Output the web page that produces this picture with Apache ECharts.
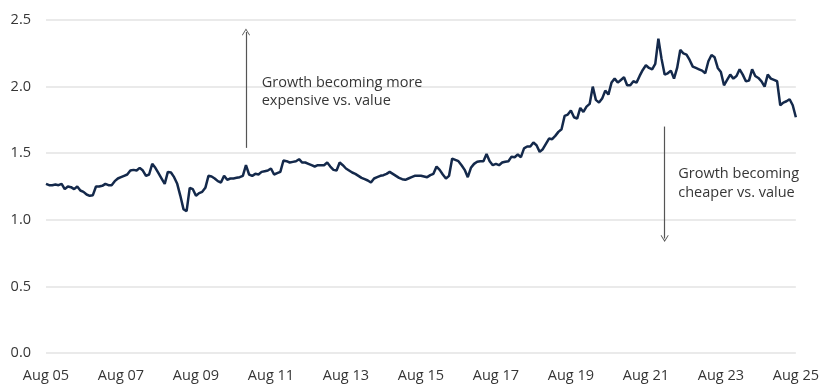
<!DOCTYPE html>
<html>
<head>
<meta charset="utf-8">
<script src="https://cdn.jsdelivr.net/npm/echarts@6/dist/echarts.min.js"></script>
<style>
html,body{margin:0;padding:0;background:#fff;}
#chart{width:822px;height:385px;}
</style>
</head>
<body>
<div id="chart"></div>
<script>
// Monthly observations, Aug 2005 .. Aug 2025 (241 months)
var startYear = 2005, startMonth = 7; // August (0-based)
var monthNames = ['Jan','Feb','Mar','Apr','May','Jun','Jul','Aug','Sep','Oct','Nov','Dec'];

var values2005_2010 = [
  1.27,1.26,1.26,1.265,1.26,1.27,1.23,1.25,1.245,1.23,1.25,1.22,1.21,1.19,1.18,1.185,
  1.25,1.25,1.255,1.27,1.26,1.26,1.29,1.31,1.32,1.33,1.34,1.37,1.375,1.37,1.39,1.37,
  1.33,1.34,1.42,1.39,1.35,1.31,1.27,1.36,1.355,1.32,1.27,1.18,1.08,1.065,1.24,1.23,
  1.18,1.20,1.21,1.24,1.33,1.325,1.31,1.29,1.28,1.33
];
var values2010_2015 = [
  1.30,1.31,1.31,1.315,1.32,1.33,1.41,1.34,1.33,1.345,1.34,1.36,1.365,1.37,1.385,1.34,
  1.35,1.36,1.445,1.44,1.43,1.435,1.44,1.455,1.43,1.43,1.42,1.41,1.40,1.41,1.41,1.41,
  1.43,1.40,1.375,1.37,1.43,1.41,1.385,1.37,1.355,1.345,1.33,1.315,1.305,1.295,1.28,1.31,
  1.32,1.33,1.335,1.345,1.36,1.345,1.33,1.315,1.305,1.30,1.31,1.32,1.33
];
var values2015_2025 = [
  1.33,1.33,1.325,1.32,1.335,1.345,1.40,1.375,1.34,1.31,1.33,1.46,1.45,1.44,1.41,1.375,
  1.32,1.39,1.42,1.436,1.44,1.44,1.494,1.44,1.41,1.42,1.41,1.43,1.436,1.44,1.474,1.47,
  1.49,1.47,1.536,1.55,1.55,1.58,1.56,1.51,1.53,1.57,1.61,1.605,1.63,1.66,1.68,1.78,
  1.79,1.82,1.77,1.76,1.84,1.81,1.85,1.87,2.00,1.90,1.88,1.91,1.97,1.94,2.03,2.06,
  2.03,2.05,2.07,2.01,2.01,2.04,2.03,2.08,2.125,2.16,2.14,2.13,2.17,2.36,2.21,2.09,
  2.10,2.12,2.06,2.14,2.275,2.25,2.24,2.20,2.15,2.14,2.13,2.12,2.10,2.19,2.237,2.22,
  2.14,2.11,2.01,2.05,2.09,2.06,2.08,2.13,2.09,2.04,2.045,2.13,2.08,2.065,2.04,2.00,
  2.09,2.06,2.05,2.04,1.86,1.88,1.89,1.905,1.86,1.77
];
var seriesValues = values2005_2010.concat(values2010_2015, values2015_2025);

var yTicks = [0.0, 0.5, 1.0, 1.5, 2.0, 2.5];

var annotUp = ['Growth becoming more', 'expensive vs. value'];
var annotDown = ['Growth becoming', 'cheaper vs. value'];

var categories = [];
for (var i = 0; i < seriesValues.length; i++) {
  var mm = startMonth + i;
  var yy = startYear + Math.floor(mm / 12);
  categories.push(monthNames[mm % 12] + ' ' + String(yy % 100).padStart(2, '0'));
}

var FONT = '"Open Sans", "Noto Sans", sans-serif';
var TXT = '#363636';
var chevron = 'path://M0,9 L5,0 L10,9 L9.2,9.6 L5,2.2 L0.8,9.6 Z';

var chart = echarts.init(document.getElementById('chart'), null, {renderer: 'canvas'});
chart.setOption({
  animation: false,
  backgroundColor: '#ffffff',
  grid: {left: 46, right: 22, top: 20, bottom: 32, containLabel: false},
  xAxis: {
    type: 'category',
    data: categories,
    boundaryGap: false,
    axisLine: {show: false},
    axisTick: {show: false},
    axisLabel: {
      interval: function (idx) { return idx % 24 === 0; },
      color: TXT, fontFamily: FONT, fontSize: 14.5, margin: 15
    },
    splitLine: {show: false}
  },
  yAxis: {
    type: 'value',
    min: yTicks[0], max: yTicks[yTicks.length - 1], interval: 0.5,
    axisLine: {show: false},
    axisTick: {show: false},
    axisLabel: {
      color: TXT, fontFamily: FONT, fontSize: 14.5, margin: 15,
      formatter: function (v) { return v.toFixed(1); }
    },
    splitLine: {lineStyle: {color: '#e3e3e3', width: 1.5}}
  },
  series: [{
    type: 'line',
    data: seriesValues,
    showSymbol: false,
    smooth: false,
    lineStyle: {color: '#14294b', width: 2.5},
    markLine: {
      silent: true,
      symbol: ['none', chevron],
      symbolSize: [8, 7],
      label: {show: false},
      lineStyle: {color: '#555555', width: 1.2, type: 'solid'},
      data: [
        [{coord: [64, 1.54]}, {coord: [64, 2.41]}],
        [{coord: [198, 1.70]}, {coord: [198, 0.86]}]
      ]
    }
  }]
});

var pUp = chart.convertToPixel({gridIndex: 0}, [70, 1.96]);
var pDn = chart.convertToPixel({gridIndex: 0}, [203, 1.275]);
chart.setOption({
  graphic: [
    {type: 'text', x: pUp[0] - 3, y: pUp[1], style: {text: annotUp.join('\n'), fill: TXT, font: '14.5px ' + FONT, lineHeight: 18.5, textVerticalAlign: 'middle'}},
    {type: 'text', x: pDn[0] - 2, y: pDn[1], style: {text: annotDown.join('\n'), fill: TXT, font: '14.5px ' + FONT, lineHeight: 18.5, textVerticalAlign: 'middle'}}
  ]
});
</script>
</body>
</html>
